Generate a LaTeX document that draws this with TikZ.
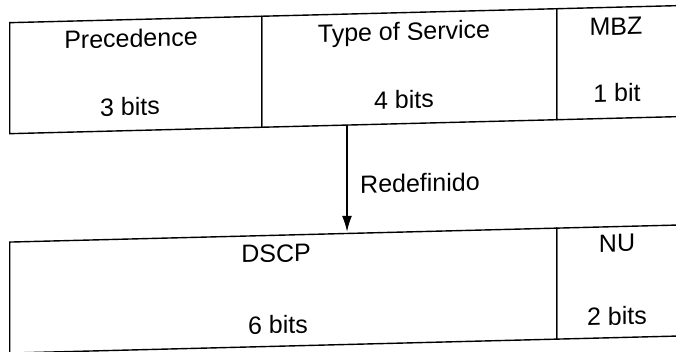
\documentclass[tikz,border=0pt]{standalone}
\usepackage{fontspec}
\setmainfont{Liberation Sans}
\usetikzlibrary{arrows.meta}

\tikzset{
  cell/.style={draw, line width=1.4pt, minimum width=#1, minimum height=111pt,
               inner sep=0pt, anchor=north west, transform shape},
  lbl/.style={inner sep=0pt, anchor=base, font=\fontsize{25}{30}\selectfont, transform shape},
  redef/.style={line width=1.4pt, -{Latex[length=16pt,width=10pt]}}
}

\begin{document}
\begin{tikzpicture}[x=1pt, y=-1pt]
  \useasboundingbox (0,0) rectangle (676,352);
  % the printed layout sits with a slight skew on the page
  \begin{scope}[cm={1,0.0255,0,1,(0pt,-8.62pt)}]
    % upper header: old TOS byte
    \node[cell=252pt] (prec) at (9,13.6) {};
    \node[cell=295pt] (tos)  at (261,13.6) {};
    \node[cell=150pt] (mbz)  at (556,13.6) {};
    \node[lbl] (precname) at (131,42) {Precedence};
    \node[lbl] (precbits) at (130,110) {3 bits};
    \node[lbl] (tosname)  at (404,42) {Type of Service};
    \node[lbl] (tosbits)  at (404,110) {4 bits};
    \node[lbl] (mbzname)  at (616,42) {MBZ};
    \node[lbl] (mbzbits)  at (617,109) {1 bit};

    % lower header: DS field
    \node[cell=547pt] (dscp) at (9,233) {};
    \node[cell=150pt] (nu)   at (556,233) {};
    \node[lbl] (dscpname) at (276,260.5) {DSCP};
    \node[lbl] (dscpbits) at (278,332) {6 bits};
    \node[lbl] (nuname)   at (617,259) {NU};
    \node[lbl] (nubits)   at (617,332) {2 bits};

    % redefinition arrow
    \coordinate (arrtop) at (347,125);
    \coordinate (arrbot) at (347,232);
    \draw[redef] (arrtop) -- (arrbot);
    \node[lbl, anchor=base west] (redeflbl) at (360,194) {Redefinido};
  \end{scope}
\end{tikzpicture}
\end{document}
